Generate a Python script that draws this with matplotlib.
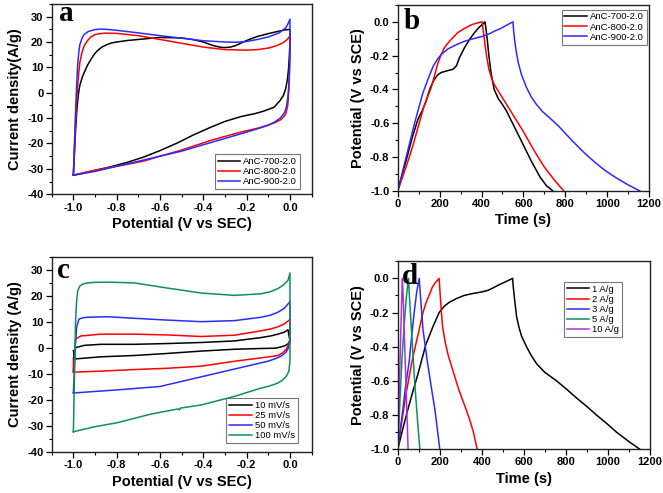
import matplotlib
matplotlib.use('Agg')
import matplotlib.pyplot as plt
from matplotlib.ticker import MultipleLocator

plt.rcParams['font.family'] = ['Liberation Sans', 'DejaVu Sans']
plt.rcParams['axes.unicode_minus'] = False

# ---- panel a: CV of the three samples (potential V, current A/g) ----
a700_v = [-1.0, -0.995, -0.99, -0.985, -0.98, -0.975, -0.97, -0.96, -0.95, -0.935, -0.92, -0.905, -0.89,
          -0.87, -0.85, -0.825, -0.8, -0.75, -0.7, -0.6, -0.5, -0.45, -0.4, -0.375, -0.35, -0.325, -0.3,
          -0.275, -0.25, -0.225, -0.2, -0.15, -0.1, -0.05, -0.02, 0.0,
          0.0, -0.003, -0.007, -0.012, -0.02, -0.03, -0.045, -0.073, -0.12, -0.16, -0.227, -0.3, -0.366,
          -0.45, -0.52, -0.6, -0.674, -0.75, -0.829, -0.9, -1.0]
a700_i = [-32.5, -24, -15, -8, -3, 0.5, 3, 5.8, 8, 10.8, 13, 15, 16.5,
          17.9, 18.8, 19.6, 20, 20.6, 21, 21.8, 21.6, 21, 20, 19.2, 18.5, 18, 17.8,
          18, 18.6, 19.6, 20.6, 22.2, 23.3, 24.3, 24.8, 25,
          20, 14, 9, 5, 1.5, -1, -3, -5.7, -7.2, -8.2, -9.4, -11.3, -13.6,
          -16.8, -19.8, -22.8, -25.3, -27.4, -29.2, -30.6, -32.5]
a800_v = [-1.0, -0.995, -0.99, -0.985, -0.98, -0.975, -0.97, -0.96, -0.95, -0.935, -0.92, -0.9, -0.88,
          -0.85, -0.8, -0.7, -0.6, -0.5, -0.4, -0.3, -0.2, -0.15, -0.1, -0.06, -0.03, -0.01, 0.0,
          0.0, -0.002, -0.005, -0.01, -0.02, -0.04, -0.07, -0.103, -0.15, -0.227, -0.3, -0.366, -0.43,
          -0.505, -0.6, -0.674, -0.75, -0.829, -0.9, -1.0]
a800_i = [-32.5, -22, -12, -4, 3, 8, 12, 16, 18.5, 20.5, 22, 22.9, 23.3,
          23.5, 23.4, 22.5, 21, 19.5, 18, 17, 16.8, 17, 17.6, 18.6, 19.8, 21.2, 22.5,
          15, 8, 1, -5, -8.5, -10.5, -11.8, -12.8, -14, -15.5, -17.2, -18.8, -20.6,
          -22.7, -25, -26.9, -28.2, -29.4, -30.5, -32.5]
a900_v = [-1.0, -0.995, -0.99, -0.985, -0.98, -0.975, -0.97, -0.96, -0.95, -0.93, -0.9, -0.87, -0.85,
          -0.8, -0.7, -0.6, -0.5, -0.4, -0.3, -0.25, -0.2, -0.15, -0.1, -0.05, -0.02, -0.01, 0.0,
          0.0, -0.002, -0.005, -0.01, -0.015, -0.02, -0.03, -0.045, -0.07, -0.1, -0.15, -0.2, -0.3,
          -0.4, -0.5, -0.6, -0.7, -0.8, -0.9, -1.0]
a900_i = [-32.5, -20, -8, 3, 11, 16, 19, 21.5, 23, 24.2, 24.9, 25.1, 25,
          24.6, 23.6, 22.5, 21.5, 20.5, 20, 19.9, 20.2, 21, 22, 23.6, 25.5, 27, 29,
          20, 10, 3, -2, -5, -6.8, -8.5, -10, -11.5, -12.8, -14.2, -15.5, -18,
          -20.5, -23, -25, -27, -29, -31, -32.5]

# ---- panel b: GCD of the three samples (time s, potential V) ----
b700_t = [0, 20, 40, 70, 96, 115, 135, 155, 175, 190, 207, 235, 263, 280, 295, 319, 345, 367, 390, 406, 416,
          420, 425, 430, 435, 445, 460, 480, 500, 520, 560, 600, 640, 680, 710, 740]
b700_e = [-1.0, -0.91, -0.82, -0.68, -0.578, -0.53, -0.47, -0.39, -0.34, -0.315, -0.30, -0.29, -0.281,
          -0.26, -0.21, -0.152, -0.1, -0.063, -0.03, -0.014, 0.0,
          -0.03, -0.08, -0.14, -0.2, -0.3, -0.4, -0.455, -0.49, -0.53, -0.63, -0.73, -0.83, -0.92, -0.97, -1.0]
b800_t = [0, 25, 50, 75, 96, 125, 159, 175, 190, 205, 223, 250, 287, 320, 351, 380, 402,
          407, 412, 418, 425, 435, 447, 460, 480, 500, 550, 600, 650, 700, 750, 792]
b800_e = [-1.0, -0.91, -0.82, -0.72, -0.627, -0.5, -0.39, -0.32, -0.25, -0.2, -0.152, -0.11, -0.063,
          -0.038, -0.018, -0.006, 0.0,
          -0.04, -0.09, -0.15, -0.21, -0.28, -0.33, -0.37, -0.41, -0.45, -0.55, -0.65, -0.76, -0.86, -0.94, -1.0]
b900_t = [0, 40, 80, 120, 150, 170, 190, 210, 240, 280, 319, 360, 398, 430, 462, 490, 520, 550,
          553, 558, 565, 575, 590, 615, 640, 663, 690, 727, 770, 830, 886, 940, 990, 1045, 1100, 1155]
b900_e = [-1.0, -0.8, -0.6, -0.42, -0.32, -0.26, -0.22, -0.19, -0.16, -0.135, -0.115, -0.1, -0.088,
          -0.075, -0.055, -0.04, -0.02, 0.0,
          -0.05, -0.11, -0.17, -0.24, -0.31, -0.39, -0.45, -0.49, -0.53, -0.57, -0.62, -0.7, -0.77, -0.83,
          -0.88, -0.925, -0.965, -1.0]

# ---- panel c: CV at different scan rates ----
c10_v = [-1.0, -0.99, -0.95, -0.873, -0.719, -0.565, -0.41, -0.256, -0.133, -0.09, -0.056, -0.025, -0.009, 0.0,
         -0.01, -0.025, -0.05, -0.071, -0.133, -0.256, -0.41, -0.565, -0.719, -0.873, -0.99, -1.0]
c10_i = [-4.2, 0.1, 1.0, 1.4, 1.4, 1.7, 2.1, 2.7, 4.0, 4.6, 5.3, 6.1, 7.0, 2.7,
         1.5, 0.8, 0.2, -0.1, -0.2, -0.5, -1.2, -2.1, -2.9, -3.4, -4.2, -1.0]
c25_v = [-1.0, -0.99, -0.966, -0.873, -0.719, -0.565, -0.41, -0.256, -0.133, -0.09, -0.056, -0.025, 0.0, 0.0,
         -0.008, -0.017, -0.035, -0.056, -0.133, -0.256, -0.41, -0.565, -0.719, -0.873, -1.0, -1.0]
c25_i = [-9.3, 3.4, 4.6, 5.3, 5.3, 5.0, 4.4, 4.9, 6.6, 7.3, 8.1, 9.3, 10.9, 3.4,
         1.0, -0.5, -2.0, -2.9, -3.8, -5.1, -7.0, -7.8, -8.3, -8.9, -9.3, -5.0]
c50_v = [-1.0, -0.99, -0.985, -0.974, -0.955, -0.935, -0.843, -0.72, -0.565, -0.41, -0.256, -0.133, -0.09,
         -0.056, -0.025, 0.0, 0.0, -0.01, -0.02, -0.04, -0.07, -0.102, -0.2, -0.4, -0.6, -0.796, -1.0]
c50_i = [-17.3, 2.0, 8.0, 11.1, 11.6, 11.8, 12.0, 11.4, 10.7, 10.1, 10.5, 11.8, 12.6,
         13.7, 15.3, 17.8, 2.0, -0.5, -1.8, -3.1, -4.2, -5.1, -7.0, -10.9, -14.8, -16.1, -17.3]
c100_v = [-1.0, -0.99, -0.985, -0.98, -0.97, -0.955, -0.935, -0.9, -0.843, -0.72, -0.565, -0.41, -0.256,
          -0.133, -0.09, -0.056, -0.03, -0.009, 0.0,
          0.0, -0.005, -0.017, -0.035, -0.056, -0.09, -0.133, -0.256, -0.41, -0.505, -0.51, -0.515,
          -0.642, -0.796, -0.904, -1.0]
c100_i = [-32.2, 10.0, 18.0, 22.0, 23.8, 24.6, 25.0, 25.2, 25.3, 25.0, 23.0, 21.1, 20.2,
          20.8, 21.6, 22.8, 24.2, 26.0, 28.8,
          -5.0, -9.0, -10.9, -12.4, -13.5, -14.5, -15.4, -18.6, -21.9, -23.1, -23.8, -23.4,
          -25.4, -28.7, -30.3, -32.2]

# ---- panel d: GCD at different current densities ----
d1_t = [0, 20, 43, 70, 96, 133, 165, 197, 220, 245, 280, 316, 360, 398, 430, 455, 478, 510, 547,
        550, 556, 566, 578, 590, 613, 635, 661, 700, 756, 800, 851, 900, 946, 1000, 1041, 1100, 1152]
d1_e = [-1.0, -0.9, -0.79, -0.67, -0.56, -0.39, -0.29, -0.2, -0.165, -0.14, -0.118, -0.1,
        -0.088, -0.08, -0.07, -0.055, -0.04, -0.022, 0.0,
        -0.05, -0.12, -0.226, -0.29, -0.34, -0.40, -0.45, -0.5, -0.55, -0.6, -0.645, -0.7, -0.75, -0.8,
        -0.855, -0.9, -0.955, -1.0]
d2_t = [0, 14, 38, 52, 67, 85, 102, 120, 135, 149, 165, 182, 197,
        201, 206, 213, 225, 240, 265, 290, 320, 343, 360, 378]
d2_e = [-1.0, -0.88, -0.686, -0.59, -0.49, -0.39, -0.3, -0.2, -0.14, -0.1, -0.05, -0.02, 0.0,
        -0.08, -0.17, -0.28, -0.37, -0.45, -0.55, -0.65, -0.75, -0.83, -0.9, -1.0]
d3_t = [0, 12, 24, 36, 54, 66, 78, 90, 102, 106, 112, 120, 141, 160, 178, 200]
d3_e = [-1.0, -0.88, -0.77, -0.64, -0.49, -0.34, -0.2, -0.08, 0.0, -0.07, -0.17, -0.3, -0.49, -0.64,
        -0.78, -1.0]
d5_t = [0, 10, 20, 30, 40, 47, 51, 55, 65, 80, 95, 105]
d5_e = [-1.0, -0.72, -0.47, -0.28, -0.12, -0.04, 0.0, -0.1, -0.3, -0.6, -0.85, -1.0]
d10_t = [0, 5, 10, 15, 19, 22, 26, 32, 40, 49]
d10_e = [-1.0, -0.76, -0.52, -0.28, -0.1, 0.0, -0.12, -0.36, -0.66, -1.0]

labels_ab = ['AnC-700-2.0', 'AnC-800-2.0', 'AnC-900-2.0']
labels_c = ['10 mV/s', '25 mV/s', '50 mV/s', '100 mV/s']
labels_d = ['1 A/g', '2 A/g', '3 A/g', '5 A/g', '10 A/g']

fig = plt.figure(figsize=(6.63, 4.93), dpi=100)
ax_a = fig.add_axes([0.078, 0.606, 0.392, 0.386])
ax_b = fig.add_axes([0.600, 0.613, 0.379, 0.377])
ax_c = fig.add_axes([0.078, 0.083, 0.392, 0.396])
ax_d = fig.add_axes([0.600, 0.089, 0.380, 0.381])

lw = 1.1
blue = '#2b2bff'
green = '#0f8f5f'
ax_a.plot(a700_v, a700_i, color='black', lw=lw, label=labels_ab[0])
ax_a.plot(a800_v, a800_i, color='red', lw=lw, label=labels_ab[1])
ax_a.plot(a900_v, a900_i, color=blue, lw=lw, label=labels_ab[2])

ax_b.plot(b700_t, b700_e, color='black', lw=lw, label=labels_ab[0])
ax_b.plot(b800_t, b800_e, color='red', lw=lw, label=labels_ab[1])
ax_b.plot(b900_t, b900_e, color=blue, lw=lw, label=labels_ab[2])

ax_c.plot(c10_v, c10_i, color='black', lw=lw, label=labels_c[0])
ax_c.plot(c25_v, c25_i, color='red', lw=lw, label=labels_c[1])
ax_c.plot(c50_v, c50_i, color=blue, lw=lw, label=labels_c[2])
ax_c.plot(c100_v, c100_i, color=green, lw=lw, label=labels_c[3])

ax_d.plot(d1_t, d1_e, color='black', lw=lw, label=labels_d[0])
ax_d.plot(d2_t, d2_e, color='red', lw=lw, label=labels_d[1])
ax_d.plot(d3_t, d3_e, color=blue, lw=lw, label=labels_d[2])
ax_d.plot(d5_t, d5_e, color=green, lw=lw, label=labels_d[3])
ax_d.plot(d10_t, d10_e, color='#b030e0', lw=lw, label=labels_d[4])

# axes styling, Origin look
for ax in (ax_a, ax_c):
    ax.set_xlim(-1.1, 0.1)
    ax.set_ylim(-40, 35)
    ax.xaxis.set_minor_locator(MultipleLocator(0.1))
    ax.yaxis.set_minor_locator(MultipleLocator(5))
    ax.set_xticks([-1.0, -0.8, -0.6, -0.4, -0.2, 0.0])
    ax.set_xticklabels(['-1.0', '-0.8', '-0.6', '-0.4', '-0.2', '0.0'])
    ax.set_yticks([-40, -30, -20, -10, 0, 10, 20, 30])
    ax.set_xlabel('Potential (V vs SEC)', fontsize=10.5, fontweight='bold', labelpad=3)
for ax in (ax_b, ax_d):
    ax.set_xlim(0, 1200)
    ax.set_ylim(-1.0, 0.1)
    ax.xaxis.set_major_locator(MultipleLocator(200))
    ax.xaxis.set_minor_locator(MultipleLocator(100))
    ax.set_yticks([-1.0, -0.8, -0.6, -0.4, -0.2, 0.0])
    ax.set_yticklabels(['-1.0', '-0.8', '-0.6', '-0.4', '-0.2', '0.0'])
    ax.yaxis.set_minor_locator(MultipleLocator(0.1))
    ax.set_xlabel('Time (s)', fontsize=10.5, fontweight='bold', labelpad=3)
    ax.set_ylabel('Potential (V vs SCE)', fontsize=10.5, fontweight='bold', labelpad=4)
ax_a.set_ylabel('Current density(A/g)', fontsize=10.5, fontweight='bold', labelpad=4)
ax_c.set_ylabel('Current density (A/g)', fontsize=10.5, fontweight='bold', labelpad=4)

for ax in (ax_a, ax_b, ax_c, ax_d):
    ax.tick_params(which='major', direction='out', length=4, width=0.9, labelsize=8, pad=2)
    ax.tick_params(which='minor', direction='out', length=2, width=0.8)
    for lab in ax.get_xticklabels() + ax.get_yticklabels():
        lab.set_fontweight('bold')
    for sp in ax.spines.values():
        sp.set_linewidth(1.0)
        sp.set_color('#222222')

leg_kw = dict(fontsize=6.8, frameon=True, fancybox=False, edgecolor='#555555', handlelength=2.4,
              handletextpad=0.3, labelspacing=0.12, borderpad=0.3, borderaxespad=0)
la = ax_a.legend(loc='lower right', bbox_to_anchor=(0.955, 0.027), **leg_kw)
lb = ax_b.legend(loc='upper right', bbox_to_anchor=(0.99, 0.975), **leg_kw)
lc = ax_c.legend(loc='lower right', bbox_to_anchor=(0.946, 0.046), **leg_kw)
ld = ax_d.legend(loc='upper right', bbox_to_anchor=(0.89, 0.89), **leg_kw)
for lg in (la, lb, lc, ld):
    lg.get_frame().set_linewidth(0.8)

letter_kw = dict(fontsize=21, fontweight='bold', family=['Liberation Serif', 'DejaVu Serif'], va='top')
ax_a.text(0.028, 1.02, 'a', transform=ax_a.transAxes, **letter_kw)
ax_b.text(0.024, 0.985, 'b', transform=ax_b.transAxes, **letter_kw)
ax_c.text(0.02, 1.0, 'c', transform=ax_c.transAxes, **letter_kw)
ax_d.text(0.018, 0.99, 'd', transform=ax_d.transAxes, **letter_kw)

fig.savefig('out.png', dpi=100)
